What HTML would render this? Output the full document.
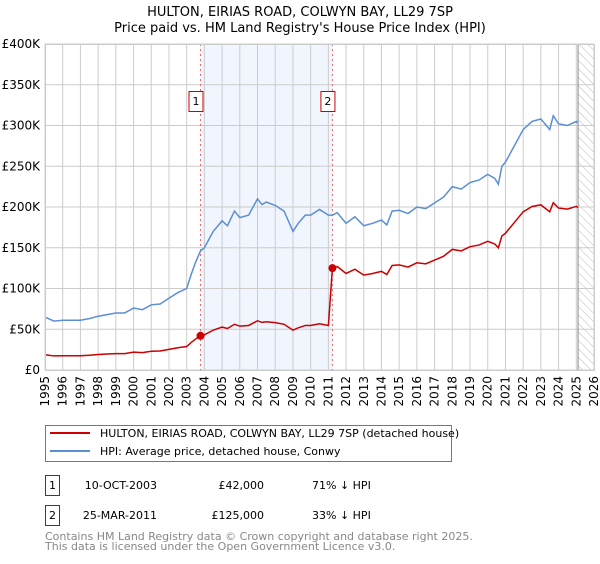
<!DOCTYPE html>
<html><head><meta charset="utf-8"><style>
body{margin:0;background:#fff;font-family:"DejaVu Sans","Liberation Sans",sans-serif;}
svg text{font-family:"DejaVu Sans","Liberation Sans",sans-serif;}
</style></head><body>
<svg id="c" width="600" height="560" xmlns="http://www.w3.org/2000/svg">
<text x="300" y="16" text-anchor="middle" font-size="13">HULTON, EIRIAS ROAD, COLWYN BAY, LL29 7SP</text>
<text x="300" y="32" text-anchor="middle" font-size="13">Price paid vs. HM Land Registry's House Price Index (HPI)</text>
<defs><pattern id="hatch" width="6" height="6" patternUnits="userSpaceOnUse" patternTransform="rotate(-45)"><line x1="0" y1="0" x2="0" y2="6" stroke="#bbb" stroke-width="1"/></pattern></defs>
<g id="plot"></g>
<g>
<rect x="45.5" y="425.5" width="406" height="36" fill="#fff" stroke="#777"/>
<line x1="50" y1="433" x2="90" y2="433" stroke="#cc0000" stroke-width="2"/>
<text x="100" y="437" font-size="11">HULTON, EIRIAS ROAD, COLWYN BAY, LL29 7SP (detached house)</text>
<line x1="50" y1="451" x2="90" y2="451" stroke="#5b8fd4" stroke-width="2"/>
<text x="100" y="455" font-size="11">HPI: Average price, detached house, Conwy</text>
</g>
<g font-size="11">
<rect x="45.5" y="475.5" width="14" height="20" fill="#fff" stroke="#cc0000"/>
<text x="52.5" y="489" text-anchor="middle">1</text>
<text x="157" y="489" text-anchor="end">10-OCT-2003</text>
<text x="264" y="489" text-anchor="end">£42,000</text>
<text x="312" y="489">71% ↓ HPI</text>
<rect x="45.5" y="505.5" width="14" height="20" fill="#fff" stroke="#cc0000"/>
<text x="52.5" y="519" text-anchor="middle">2</text>
<text x="157" y="519" text-anchor="end">25-MAR-2011</text>
<text x="264" y="519" text-anchor="end">£125,000</text>
<text x="312" y="519">33% ↓ HPI</text>
</g>
<text x="45" y="540" font-size="11" fill="#888">Contains HM Land Registry data © Crown copyright and database right 2025.</text>
<text x="45" y="550" font-size="11" fill="#888">This data is licensed under the Open Government Licence v3.0.</text>
</svg>
<script>
const hpiYears=[1995,1995.5,1996,1997,1997.5,1998,1998.5,1999,1999.5,2000,2000.5,2001,2001.5,2002,2002.5,2003,2003.25,2003.5,2003.78,2004,2004.5,2005,2005.3,2005.7,2006,2006.5,2007,2007.25,2007.5,2008,2008.5,2009,2009.3,2009.7,2010,2010.5,2011,2011.23,2011.5,2012,2012.5,2013,2013.5,2014,2014.3,2014.6,2015,2015.5,2016,2016.5,2017,2017.5,2018,2018.5,2019,2019.5,2020,2020.4,2020.6,2020.8,2021,2021.5,2022,2022.5,2023,2023.5,2023.7,2024,2024.5,2025,2025.1];
const hpiValues=[65,60,61,61,63,66,68,70,70,76,74,80,81,88,95,100,117,132,146,150,170,183,177,195,187,190,210,203,206,202,195,170,180,190,190,197,190,190,193,180,188,177,180,184,178,195,196,192,200,198,205,212,225,222,230,233,240,235,228,250,255,275,295,305,308,295,312,302,300,305,303];
const saleYears=[2003.78,2011.23];
const salePrices=[42,125];
const saleLabels=["1","2"];
const yTicks=[0,50,100,150,200,250,300,350,400];
const yTickLabels=["£0","£50K","£100K","£150K","£200K","£250K","£300K","£350K","£400K"];
const xTicks=[];for(let y=1995;y<=2026;y++)xTicks.push(y);
const L=45,R=594,T=44,B=370,x0=1995,x1=2026,yMax=400,dataEnd=2025.1;
const X=v=>L+(v-x0)/(x1-x0)*(R-L);
const Y=v=>B-v/yMax*(B-T);
const ns="http://www.w3.org/2000/svg";
const g=document.getElementById('plot');
function mk(t,a){const e=document.createElementNS(ns,t);for(const k in a)e.setAttribute(k,a[k]);g.appendChild(e);return e;}
let e=mk('rect',{x:X(saleYears[0]),y:T,width:X(saleYears[1])-X(saleYears[0]),height:B-T,fill:'#eef3fc',opacity:0.8});


e=mk('rect',{x:X(dataEnd),y:T,width:R-X(dataEnd),height:B-T,fill:'url(#hatch)'});


xTicks.forEach(t=>{
 e=mk('line',{x1:X(t),x2:X(t),y1:T,y2:B,stroke:'#ccc','stroke-width':1});
 
 
 e=mk('text',{x:0,y:0,'font-size':12,'text-anchor':'end',transform:`translate(${X(t)+4},${B+6}) rotate(-90)`});
 e.textContent=t;
 
 
});
yTicks.forEach((t,i)=>{
 e=mk('line',{x1:L,x2:R,y1:Y(t),y2:Y(t),stroke:'#ccc','stroke-width':1});
 
 
 e=mk('text',{x:L-5,y:Y(t)+4,'font-size':12,'text-anchor':'end'});
 e.textContent=yTickLabels[i];
 
 
});
e=mk('line',{x1:X(dataEnd),x2:X(dataEnd),y1:T,y2:B,stroke:'#888','stroke-width':1});


function hpiAt(t){for(let i=1;i<hpiYears.length;i++){if(t<=hpiYears[i]){const a=hpiYears[i-1],b=hpiYears[i];return hpiValues[i-1]+(hpiValues[i]-hpiValues[i-1])*(t-a)/(b-a);}}return hpiValues[hpiValues.length-1];}
// property line: sale price indexed by HPI
const pts=[];
hpiYears.forEach((t,i)=>{
 let k=0;if(t>=saleYears[1])k=1;
 const ratio=salePrices[k]/hpiAt(saleYears[k]);
 if(t>saleYears[1]&&pts.length&&pts[pts.length-1][0]<saleYears[1]){
  const r0=salePrices[0]/hpiAt(saleYears[0]);
  pts.push([saleYears[1],hpiAt(saleYears[1])*r0]);
  pts.push([saleYears[1],salePrices[1]]);
 }
 pts.push([t,hpiValues[i]*ratio]);
});
saleYears.forEach((s,i)=>{
 e=mk('line',{x1:X(s),x2:X(s),y1:T,y2:B,stroke:'#e66','stroke-width':1,'stroke-dasharray':'2,3'});
 
 
});
e=mk('polyline',{points:hpiValues.map((v,i)=>X(hpiYears[i])+','+Y(v)).join(' '),fill:'none',stroke:'#5b8fd4','stroke-width':1.5});


e=mk('polyline',{points:pts.map(p=>X(p[0])+','+Y(p[1])).join(' '),fill:'none',stroke:'#cc0000','stroke-width':1.5});


saleYears.forEach((s,i)=>{
 e=mk('circle',{cx:X(s),cy:Y(salePrices[i]),r:4,fill:'#cc0000'});
 
 
 e=mk('rect',{x:X(s)-11.5,y:91.5,width:14,height:20,fill:'#fff',stroke:'#cc0000'});
 
 
 e=mk('text',{x:X(s)-4.5,y:105,'font-size':11,'text-anchor':'middle'});
 e.textContent=saleLabels[i];
 
 
});
e=mk('rect',{x:L+0.5,y:T+0.5,width:R-L,height:B-T,fill:'none',stroke:'#ccc'});


</script>
</body></html>
